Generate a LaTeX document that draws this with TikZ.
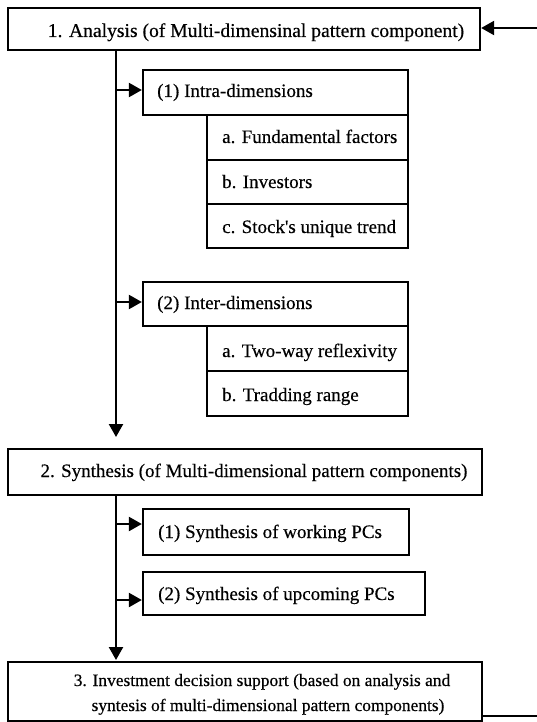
\documentclass[tikz,border=0pt]{standalone}
\usepackage{fontspec}
\setmainfont[FakeBold=0.4]{Liberation Serif}
\usetikzlibrary{arrows.meta}
\begin{document}
\begin{tikzpicture}[x=1pt,y=-1pt,
 box/.style={draw, line width=2.3pt, inner sep=0pt},
 lbl/.style={anchor=base west, inner sep=0pt, font=\fontsize{19}{22}\selectfont},
 clbl/.style={anchor=base, inner sep=0pt, font=\fontsize{19}{22}\selectfont},
 conn/.style={line width=2.3pt, -{Triangle[length=13pt,width=14pt]}}]
\useasboundingbox (0,0) rectangle (537,722);
% boxes
\node[box, minimum width=472pt, minimum height=42pt] (b1) at (244,29) {};
\node[box, minimum width=265pt, minimum height=45pt] (intra) at (275.5,92.5) {};
\node[box, minimum width=201pt, minimum height=45pt] (ia) at (307.5,137.5) {};
\node[box, minimum width=201pt, minimum height=44pt] (ib) at (307.5,182) {};
\node[box, minimum width=201pt, minimum height=44pt] (ic) at (307.5,226) {};
\node[box, minimum width=265pt, minimum height=44pt] (inter) at (275.5,304) {};
\node[box, minimum width=201pt, minimum height=45pt] (ea) at (307.5,348.5) {};
\node[box, minimum width=201pt, minimum height=45pt] (eb) at (307.5,393.5) {};
\node[box, minimum width=474pt, minimum height=46pt] (b2) at (245,472) {};
\node[box, minimum width=266pt, minimum height=46pt] (s1) at (276,532) {};
\node[box, minimum width=282pt, minimum height=43pt] (s2) at (284,593.5) {};
\node[box, minimum width=474pt, minimum height=59pt] (b3) at (245,691.5) {};
% texts
\node[clbl, font=\fontsize{19.6}{22}\selectfont] (t1) at (256,37) {1. Analysis (of Multi-dimensinal pattern component)};
\node[lbl] (tintra) at (157,97) {(1) Intra-dimensions};
\node[lbl] (tia) at (222,143) {a. Fundamental factors};
\node[lbl] (tib) at (222,188) {b. Investors};
\node[lbl] (tic) at (222,233) {c. Stock\textquotesingle s unique trend};
\node[lbl] (tinter) at (157,309) {(2) Inter-dimensions};
\node[lbl] (tea) at (222,357) {a. Two-way reflexivity};
\node[lbl] (teb) at (222,401) {b. Tradding range};
\node[clbl] (t2) at (254,477) {2. Synthesis (of Multi-dimensional pattern components)};
\node[lbl] (ts1) at (158,538) {(1) Synthesis of working PCs};
\node[lbl] (ts2) at (158,600) {(2) Synthesis of upcoming PCs};
\node[clbl, font=\fontsize{17.4}{20}\selectfont] (t3a) at (262,686) {3. Investment decision support (based on analysis and};
\node[clbl, font=\fontsize{17.4}{20}\selectfont] (t3b) at (268,711) {syntesis of multi-dimensional pattern components)};
% trunk coordinates
\coordinate (v1) at (116,437);
\coordinate (v2) at (116,660);
\coordinate (a1) at (116,90);
\coordinate (a2) at (116,302);
\coordinate (a3) at (116,524);
\coordinate (a4) at (116,600);
\coordinate (fb3) at (550,716);
\coordinate (fb1) at (550,28);
% connectors
\draw[conn] (b1.south -| v1) -- (v1);
\draw[conn] (a1) -- (intra.west |- a1);
\draw[conn] (a2) -- (inter.west |- a2);
\draw[conn] (b2.south -| v2) -- (v2);
\draw[conn] (a3) -- (s1.west |- a3);
\draw[conn] (a4) -- (s2.west |- a4);
\draw[conn] (b3.east |- fb3) -- (fb3) -- (fb1) -- (b1.east |- fb1);
\end{tikzpicture}
\end{document}
